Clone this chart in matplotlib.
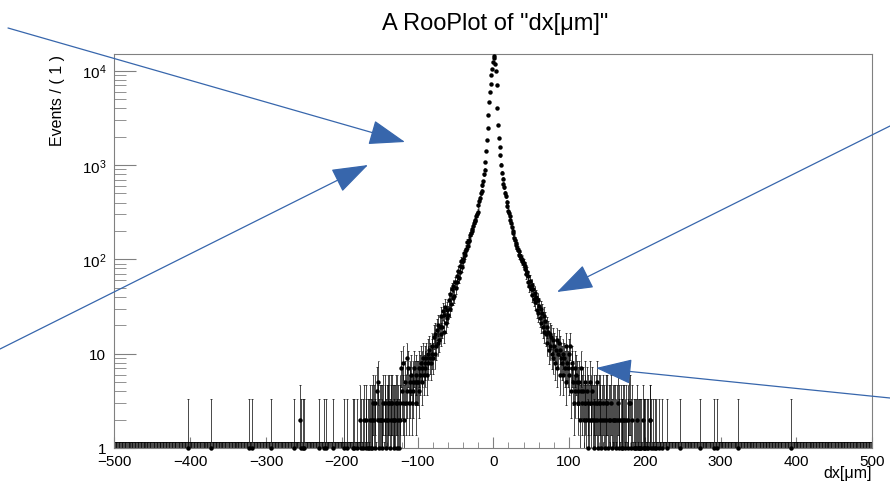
import math
import numpy as np
import matplotlib
matplotlib.use("Agg")
import matplotlib.pyplot as plt
from matplotlib.patches import FancyArrowPatch
from matplotlib.ticker import FixedLocator, FuncFormatter, MultipleLocator, NullFormatter

# ---- data (1 um bins from -500 to 500) ----
central_start = -180   # left edge of first bin in central_counts
central_counts = [
    1, 0, 0, 2, 0, 1, 0, 0, 1, 2,
    0, 1, 2, 0, 1, 1, 0, 2, 1, 2,
    1, 3, 2, 1, 3, 0, 4, 2, 5, 1,
    2, 2, 1, 2, 3, 0, 2, 3, 1, 2,
    3, 2, 3, 1, 3, 2, 3, 2, 2, 1,
    2, 3, 1, 3, 2, 1, 2, 3, 7, 4,
    3, 8, 2, 5, 3, 9, 4, 7, 3, 5,
    4, 6, 3, 5, 4, 7, 5, 3, 6, 5,
    5, 7, 4, 6, 8, 5, 7, 9, 6, 8,
    7, 9, 6, 10, 8, 11, 9, 8, 12, 10,
    9, 15, 10, 16, 12, 18, 13, 20, 14, 19,
    16, 25, 19, 28, 17, 26, 31, 21, 29, 24,
    26, 37, 30, 43, 34, 48, 39, 52, 41, 57,
    50, 66, 58, 75, 64, 84, 73, 95, 82, 101,
    97, 116, 112, 127, 130, 151, 139, 160, 158, 181,
    189, 201, 210, 224, 240, 255, 262, 285, 301, 320,
    372, 418, 445, 503, 531, 612, 668, 795, 889, 1080,
    1410, 1820, 2450, 3350, 4700, 6000, 7200, 8900, 10500, 12300,
    14300, 13500, 11800, 10000, 7000, 4000, 2650, 1950, 1550, 1260,
    1010, 826, 712, 631, 578, 502, 466, 403, 371, 328,
    309, 285, 262, 240, 222, 201, 188, 170, 161, 148,
    142, 133, 126, 121, 112, 108, 103, 97, 99, 92,
    91, 79, 84, 70, 73, 58, 66, 52, 59, 49,
    53, 42, 48, 38, 44, 35, 40, 29, 37, 27,
    32, 24, 30, 21, 27, 19, 25, 17, 22, 16,
    19, 13, 17, 11, 16, 12, 15, 10, 14, 9,
    12, 8, 11, 14, 7, 10, 13, 6, 11, 9,
    8, 10, 6, 9, 7, 12, 5, 8, 7, 10,
    6, 12, 4, 7, 8, 5, 3, 7, 4, 6,
    5, 4, 3, 5, 2, 4, 7, 3, 4, 2,
    3, 5, 2, 4, 1, 3, 2, 5, 3, 2,
    4, 2, 3, 1, 2, 3, 5, 2, 1, 3,
    2, 3, 1, 2, 3, 0, 2, 1, 3, 2,
    3, 1, 2, 0, 2, 3, 1, 2, 0, 2,
    2, 1, 0, 2, 3, 1, 2, 0, 2, 1,
    1, 2, 2, 0, 1, 2, 0, 1, 2, 3,
    3, 1, 0, 2, 0, 1, 1, 0, 1, 2,
    1, 0, 1, 1, 0, 1, 0, 2, 1, 1,
    1, 0, 1, 0, 1, 0, 2, 2, 1, 0,
    1, 0, 0, 1, 0, 1, 0, 0, 1, 0,
    0, 0, 1, 0, 0, 0, 0, 0, 0, 1,
]
# isolated entries in the tails (bin left edge, count)
tail_x = [-403, -373, -323, -319, -294, -264, -256, -254, -252, -250,
          -230, -224, -221, -212, -197, -194, -186, -184,
          246, 272, 291, 295, 323, 393]
tail_n = [1, 1, 1, 1, 1, 1, 2, 1, 1, 1,
          1, 1, 1, 1, 1, 1, 1, 1,
          1, 1, 1, 1, 1, 1]

title = 'A RooPlot of "dx[\u03bcm]"'
xlabel = "dx[\u03bcm]"
ylabel = "Events / ( 1 )"

plt.rcParams["font.family"] = ["Liberation Sans", "DejaVu Sans"]
plt.rcParams["mathtext.fontset"] = "custom"
plt.rcParams["mathtext.rm"] = "Liberation Sans"
plt.rcParams["mathtext.it"] = "Liberation Sans:italic"
plt.rcParams["mathtext.bf"] = "Liberation Sans:bold"

counts = np.zeros(1000)
centers = np.arange(-499.5, 500, 1.0)
i0 = central_start + 500
counts[i0:i0 + len(central_counts)] = central_counts
for x, n in zip(tail_x, tail_n):
    counts[x + 500] = n


def poisson_cdf(k, mu):
    return sum(math.exp(-mu + j * math.log(mu) - math.lgamma(j + 1)) for j in range(k + 1))


def bisect(f, a, b):
    # f decreasing on [a, b]
    for _ in range(60):
        m = 0.5 * (a + b)
        if f(m) > 0:
            a = m
        else:
            b = m
    return 0.5 * (a + b)


_cache = {}
def poisson_interval(n):
    n = int(n)
    if n in _cache:
        return _cache[n]
    alpha = 0.158655
    if n == 0:
        res = (0.0, -math.log(2 * alpha))
    elif n > 100:
        s = math.sqrt(n)
        res = (n - s, n + s)
    else:
        hi = bisect(lambda mu: poisson_cdf(n, mu) - alpha, n, n + 10 * math.sqrt(n) + 10)
        lo = bisect(lambda mu: poisson_cdf(n - 1, mu) - (1 - alpha), 1e-6, n)
        res = (lo, hi)
    _cache[n] = res
    return res


lo = np.array([poisson_interval(n)[0] for n in counts])
hi = np.array([poisson_interval(n)[1] for n in counts])

W, H = 890, 485
fig = plt.figure(figsize=(8.9, 4.85), dpi=100)
ax = fig.add_axes([114.5 / W, 1 - 449 / H, (872 - 114.5) / W, (449 - 55) / H])
ax.set_yscale("log")

ax.vlines(centers, np.maximum(lo, 0.5), hi, color="k", lw=0.5)
ax.hlines(hi, centers - 1.2, centers + 1.2, color="k", lw=0.5)
m = lo > 0
ax.hlines(lo[m], centers[m] - 1.2, centers[m] + 1.2, color="k", lw=0.5)
nz = counts > 0
ax.plot(centers[nz], counts[nz], "o", ms=3.2, color="k", mew=0, clip_on=False, zorder=3)

ax.set_xlim(-500, 500)
ax.set_ylim(1, 15000)

for s in ax.spines.values():
    s.set_color("#808080")
ax.xaxis.set_major_locator(MultipleLocator(100))
ax.xaxis.set_minor_locator(MultipleLocator(20))
ax.yaxis.set_major_locator(FixedLocator([1, 10, 100, 1000, 10000]))
ax.yaxis.set_minor_locator(FixedLocator([k * 10 ** d for d in range(4) for k in range(2, 10)]))
ax.yaxis.set_minor_formatter(NullFormatter())


def ylab(v, pos):
    if v < 5:
        return "1"
    if v < 50:
        return "10"
    return r"$10^{%d}$" % round(math.log10(v))


ax.yaxis.set_major_formatter(FuncFormatter(ylab))
ax.tick_params(which="both", direction="in", color="#808080", labelcolor="k",
               labelsize=11, top=False, right=False)
ax.tick_params(axis="x", which="major", length=8, pad=4)
ax.tick_params(axis="x", which="minor", length=4)
ax.tick_params(axis="y", which="major", length=16, pad=6)
ax.tick_params(axis="y", which="minor", length=8.5)

fig.text(495 / W, 1 - 30 / H, title, fontsize=17, ha="center", va="baseline")
fig.text(57.5 / W, 1 - 55 / H, ylabel, fontsize=11.5, rotation=90, ha="center", va="top")
fig.text(872 / W, 1 - 478 / H, xlabel, fontsize=11.5, ha="right", va="baseline")

# blue annotation arrows (figure pixel coordinates)
arrows = [((8, 29), (405, 143)), ((0, 350), (368, 166)),
          ((890, 127), (557, 293)), ((890, 399), (596, 369))]
for (x0, y0), (x1, y1) in arrows:
    a = FancyArrowPatch((x0 / W, 1 - y0 / H), (x1 / W, 1 - y1 / H),
                        transform=fig.transFigure,
                        arrowstyle="-|>,head_length=23,head_width=8",
                        mutation_scale=1, shrinkA=0, shrinkB=0,
                        color="#3766ac", lw=0.9)
    fig.add_artist(a)

fig.savefig("out.png", dpi=100)
